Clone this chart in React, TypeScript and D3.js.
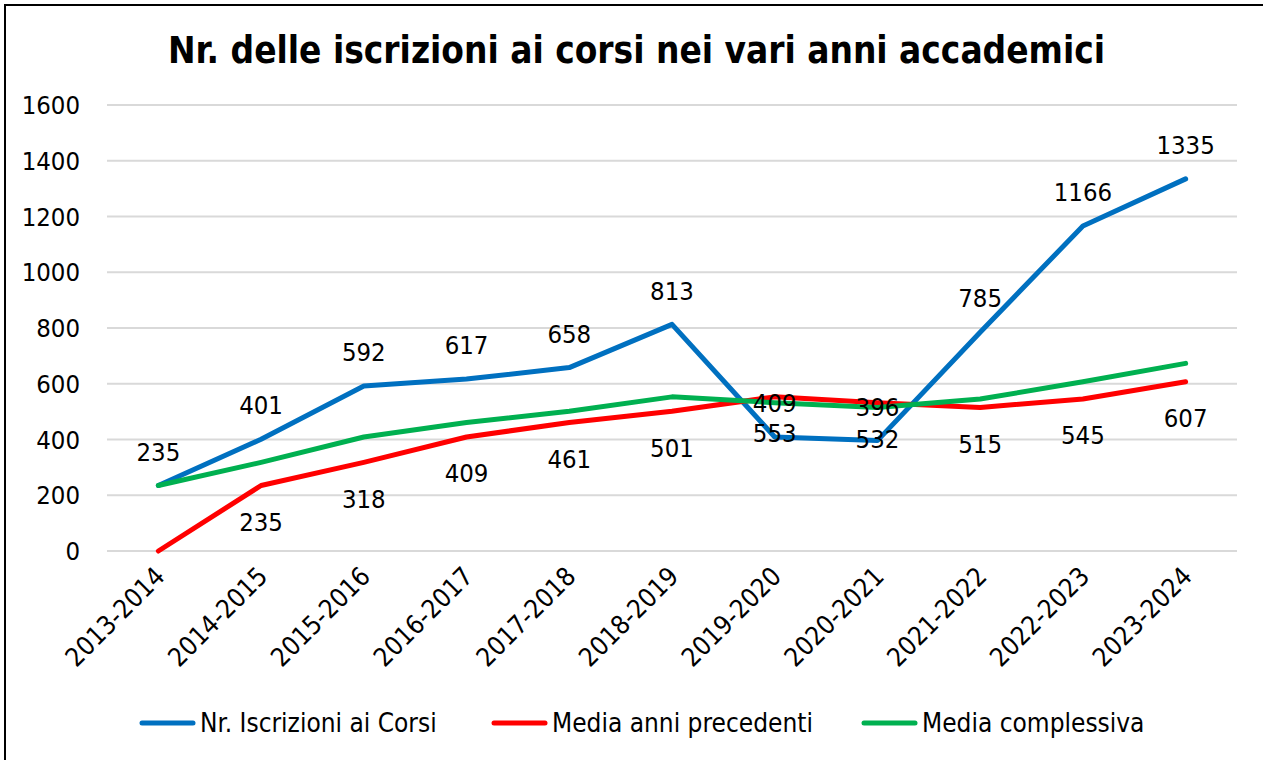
import { useEffect, useRef } from "react";
import * as d3 from "d3";

const title = "Nr. delle iscrizioni ai corsi nei vari anni accademici";

const years = [
  "2013-2014", "2014-2015", "2015-2016", "2016-2017", "2017-2018", "2018-2019",
  "2019-2020", "2020-2021", "2021-2022", "2022-2023", "2023-2024",
];

const iscrizioni = [235, 401, 592, 617, 658, 813, 409, 396, 785, 1166, 1335];
const mediaPrecedenti = [0, 235, 318, 409, 461, 501, 553, 532, 515, 545, 607];
const mediaComplessiva = [235, 318, 409, 461, 501, 553, 532, 515, 545, 607, 673];

const yTicks = [0, 200, 400, 600, 800, 1000, 1200, 1400, 1600];

const series = [
  { name: "Nr. Iscrizioni ai Corsi", values: iscrizioni, color: "#0070C0", label: "above" },
  { name: "Media anni precedenti", values: mediaPrecedenti, color: "#FF0000", label: "below" },
  { name: "Media complessiva", values: mediaComplessiva, color: "#00B050", label: "none" },
];

const FONT = "'DejaVu Sans Condensed', 'DejaVu Sans', sans-serif";
const FS = 25.5;

export default function App() {
  const svgRef = useRef<SVGSVGElement>(null);

  useEffect(() => {
    if (!svgRef.current) return;
    const svg = d3.select(svgRef.current);
    svg.selectAll("*").remove();

    const W = 1263;
    const H = 760;

    svg.append("rect").attr("width", W).attr("height", H).attr("fill", "#fff");
    // chart frame (only top/left visible in the crop)
    svg.append("rect")
      .attr("x", 5).attr("y", 5)
      .attr("width", W + 20).attr("height", H + 20)
      .attr("fill", "none").attr("stroke", "#000").attr("stroke-width", 2);

    const margin = { left: 107, right: 1237, top: 105, bottom: 551 };

    const x = d3.scalePoint<string>().domain(years).range([margin.left, margin.right]).padding(0.5);
    const y = d3.scaleLinear().domain([0, 1600]).range([margin.bottom, margin.top]);

    svg.append("text")
      .attr("x", 168).attr("y", 63)
      .attr("font-family", FONT).attr("font-weight", "bold")
      .attr("font-size", 37)
      .attr("textLength", 937).attr("lengthAdjust", "spacingAndGlyphs")
      .attr("fill", "#000")
      .text(title);

    // grid
    svg.append("g").selectAll("line").data(yTicks).join("line")
      .attr("x1", margin.left).attr("x2", margin.right)
      .attr("y1", (d) => y(d)).attr("y2", (d) => y(d))
      .attr("stroke", "#d9d9d9").attr("stroke-width", 2);

    // y labels
    svg.append("g").selectAll("text").data(yTicks).join("text")
      .attr("x", 80).attr("y", (d) => y(d))
      .attr("dy", "0.36em")
      .attr("text-anchor", "end")
      .attr("font-family", FONT).attr("font-size", FS)
      .attr("fill", "#000")
      .text((d) => d);

    // x labels
    svg.append("g").selectAll("text").data(years).join("text")
      .attr("transform", (d) => `translate(${x(d)! + 8},${margin.bottom + 27}) rotate(-45)`)
      .attr("text-anchor", "end")
      .attr("font-family", FONT).attr("font-size", FS + 0.5)
      .attr("fill", "#000")
      .text((d) => d);

    const line = d3.line<number>()
      .x((_, i) => x(years[i])!)
      .y((d) => y(d));

    series.forEach((s) => {
      svg.append("path")
        .datum(s.values)
        .attr("d", line)
        .attr("fill", "none")
        .attr("stroke", s.color)
        .attr("stroke-width", 5)
        .attr("stroke-linecap", "round")
        .attr("stroke-linejoin", "round");
    });

    series.forEach((s) => {
      if (s.label === "none") return;
      const off = s.label === "above" ? -34 : 36;
      svg.append("g").selectAll("text").data(s.values.map((v, i) => ({ v, i })).filter((d) => d.v > 0)).join("text")
        .attr("x", (d) => x(years[d.i])!)
        .attr("y", (d) => y(d.v) + off)
        .attr("dy", "0.36em")
        .attr("text-anchor", "middle")
        .attr("font-family", FONT).attr("font-size", FS)
        .attr("fill", "#000")
        .text((d) => d.v);
    });

    // legend
    const legendX = [140, 492, 862];
    const legendY = 723;
    series.forEach((s, i) => {
      const g = svg.append("g").attr("transform", `translate(${legendX[i]},${legendY})`);
      g.append("line")
        .attr("x1", 2).attr("x2", 53).attr("y1", 0).attr("y2", 0)
        .attr("stroke", s.color).attr("stroke-width", 5).attr("stroke-linecap", "round");
      g.append("text")
        .attr("x", 60).attr("y", 0).attr("dy", "0.36em")
        .attr("font-family", FONT).attr("font-size", FS + 0.5)
        .attr("fill", "#000")
        .text(s.name);
    });
  }, []);

  return (
    <svg
      ref={svgRef}
      width={1263}
      height={760}
      style={{ position: "absolute", left: 0, top: 0, display: "block" }}
    />
  );
}
